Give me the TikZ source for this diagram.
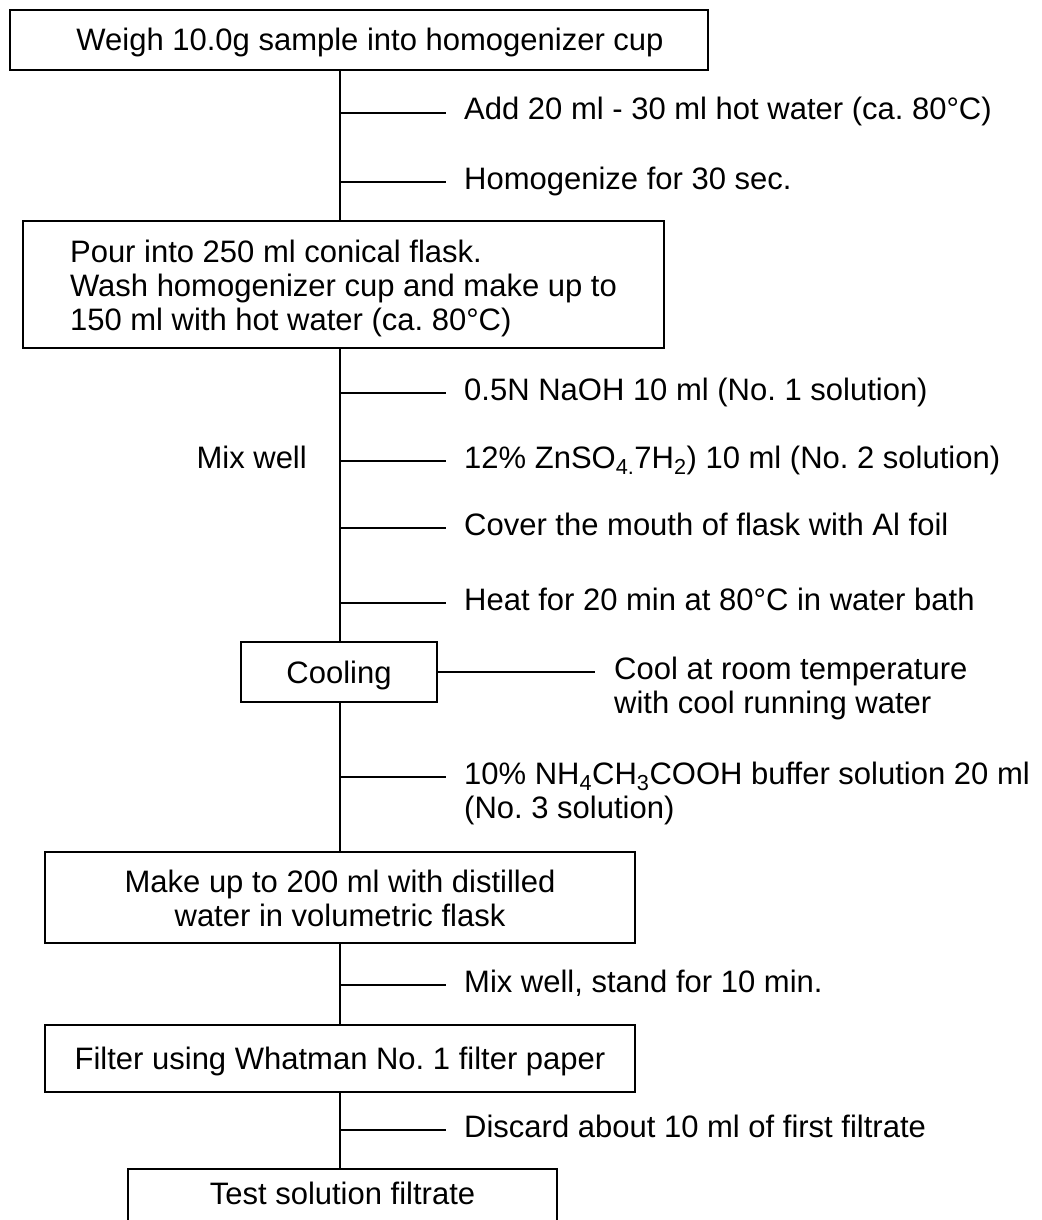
\documentclass[tikz,border=0pt]{standalone}
\usepackage{fontspec}
\setmainfont{Liberation Sans}
\newcommand\fs{\fontsize{31}{34}\selectfont}
\frenchspacing
\begin{document}
\begin{tikzpicture}[x=1pt,y=-1pt,
  box/.style={draw,line width=1.5pt,inner sep=0pt,font=\fs},
  one/.style={text height=22pt,text depth=0pt},
  multi/.style={text height=23.4pt,text depth=0pt},
  lbl/.style={anchor=base west,inner sep=0pt,font=\fs},
  ln/.style={line width=1.4pt}]
\useasboundingbox (0,0) rectangle (1041,1220);
\clip (0,0) rectangle (1041,1220);

% boxes
\node[box,one,minimum width=698pt,minimum height=60pt] (b1) at (359,40) {\hspace*{22pt}Weigh 10.0g sample into homogenizer cup};
\node[box,multi,minimum width=641pt,minimum height=127pt] (b2) at (343.5,284.5)
  {\begin{tabular}{@{}l@{}}Pour into 250 ml conical flask.\\Wash homogenizer cup and make up to\\150 ml with hot water (ca. 80°C)\end{tabular}};
\node[box,one,minimum width=196pt,minimum height=60pt] (b3) at (339,672) {Cooling};
\node[box,multi,minimum width=590pt,minimum height=91pt] (b4) at (340,897.5)
  {\begin{tabular}{@{}c@{}}Make up to 200 ml with distilled\\water in volumetric flask\end{tabular}};
\node[box,one,minimum width=590pt,minimum height=67pt] (b5) at (340,1058.5) {Filter using Whatman No. 1 filter paper};
\node[box,anchor=north,minimum width=429pt,text height=36pt,text depth=70pt] (b6) at (342.5,1168) {Test solution filtrate};

% spine
\coordinate (sp) at (340,0);
\draw[ln] (b1.south -| sp) -- (b2.north -| sp);
\draw[ln] (b2.south -| sp) -- (b3.north -| sp);
\draw[ln] (b3.south -| sp) -- (b4.north -| sp);
\draw[ln] (b4.south -| sp) -- (b5.north -| sp);
\draw[ln] (b5.south -| sp) -- (b6.north -| sp);

% branch labels
\node[lbl] (l1) at (464,120) {Add 20 ml - 30 ml hot water (ca. 80°C)};
\node[lbl] (l2) at (464,189) {Homogenize for 30 sec.};
\node[lbl] (l3) at (464,400) {0.5N NaOH 10 ml (No. 1 solution)};
\node[lbl] (l4) at (464,468) {12\% ZnSO\textsubscript{4.}7H\textsubscript{2}) 10 ml (No. 2 solution)};
\node[lbl] (l5) at (464,535) {Cover the mouth of flask with Al foil};
\node[lbl] (l6) at (464,610) {Heat for 20 min at 80°C in water bath};
\node[lbl] (l7) at (614,679) {\begin{tabular}[t]{@{}l@{}}Cool at room temperature\\with cool running water\end{tabular}};
\node[lbl] (l8) at (464,784) {\begin{tabular}[t]{@{}l@{}}10\% NH\textsubscript{4}CH\textsubscript{3}COOH buffer solution 20 ml\\(No. 3 solution)\end{tabular}};
\node[lbl] (l9) at (464,992) {Mix well, stand for 10 min.};
\node[lbl] (l10) at (464,1137) {Discard about 10 ml of first filtrate};
\node[anchor=base east,inner sep=0pt,font=\fs] (mw) at (307,468) {Mix well};

% junctions
\coordinate (j1) at (340,113);
\coordinate (j2) at (340,182);
\coordinate (j3) at (340,393);
\coordinate (j4) at (340,461);
\coordinate (j5) at (340,528);
\coordinate (j6) at (340,603);
\coordinate (j8) at (340,777);
\coordinate (j9) at (340,985);
\coordinate (j10) at (340,1130);
\coordinate (c7) at (595,672);

\foreach \j/\l in {j1/l1,j2/l2,j3/l3,j4/l4,j5/l5,j6/l6,j8/l8,j9/l9,j10/l10}
  \draw[ln] (\j) -- ([xshift=-18pt]\j -| \l.west);
\draw[ln] (b3.east |- c7) -- (c7);
\end{tikzpicture}
\end{document}
